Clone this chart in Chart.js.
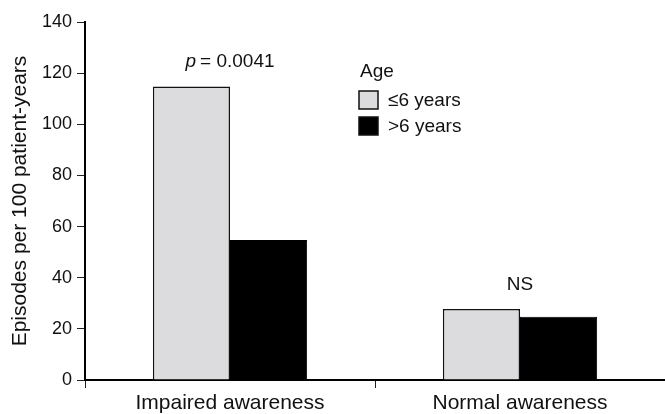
<!DOCTYPE html>
<html>
<head>
<meta charset="utf-8">
<script src="https://cdn.jsdelivr.net/npm/chart.js@4"></script>
<style>
html, body { margin: 0; padding: 0; background: #fff; }
</style>
</head>
<body>
<canvas id="chart" width="665" height="414"></canvas>
<script>
// Chart data
const categories = ['Impaired awareness', 'Normal awareness'];
const seriesLabels = ['\u22646 years', '>6 years'];
const youngerValues = [114.8, 27.8];
const olderValues = [54.7, 24.7];
const yMin = 0;
const yMax = 140;
const yStep = 20;
// annotation above each pair: [italic part, upright part]
const pairNotes = [['p', '= 0.0041'], ['', 'NS']];
const legendTitle = 'Age';

const fontFamily = '"Liberation Sans", Arial, Helvetica, sans-serif';
const ink = '#111111';

Chart.defaults.font.family = fontFamily;
Chart.defaults.color = ink;

// Draws the p-value / NS notes and the small "Age" legend inside the plot
const notesPlugin = {
    id: 'notes',
    afterDatasetsDraw(chart, args, opts) {
        const ctx = chart.ctx;
        const xs = chart.scales.x;
        const ys = chart.scales.y;
        ctx.save();
        ctx.fillStyle = ink;
        ctx.textBaseline = 'alphabetic';

        pairNotes.forEach((parts, i) => {
            const top = Math.max(youngerValues[i], olderValues[i]);
            const cx = xs.getPixelForValue(i);
            const by = ys.getPixelForValue(top) - opts.noteGap;
            ctx.font = 'italic 19px ' + fontFamily;
            const w1 = parts[0] ? ctx.measureText(parts[0]).width + 4 : 0;
            ctx.font = '19px ' + fontFamily;
            const w2 = ctx.measureText(parts[1]).width;
            let sx = cx - (w1 + w2) / 2;
            ctx.textAlign = 'left';
            if (parts[0]) {
                ctx.font = 'italic 19px ' + fontFamily;
                ctx.fillText(parts[0], sx, by);
                sx += w1;
            }
            ctx.font = '19px ' + fontFamily;
            ctx.fillText(parts[1], sx, by);
        });

        // legend
        const lx = opts.legendX;
        ctx.font = '19px ' + fontFamily;
        ctx.textAlign = 'left';
        ctx.textBaseline = 'middle';
        ctx.fillText(legendTitle, lx + 1, opts.legendY);
        chart.data.datasets.forEach((ds, i) => {
            const cy = opts.legendY + 28 + i * 26;
            ctx.fillStyle = ds.backgroundColor;
            ctx.fillRect(lx, cy - 9, 19, 18);
            ctx.lineWidth = 1.5;
            ctx.strokeStyle = ink;
            ctx.strokeRect(lx, cy - 9, 19, 18);
            ctx.fillStyle = ink;
            ctx.fillText(ds.label, lx + 29, cy + 1);
        });
        ctx.restore();
    }
};

const ctx = document.getElementById('chart').getContext('2d');

new Chart(ctx, {
    type: 'bar',
    data: {
        labels: categories,
        datasets: [
            {
                label: seriesLabels[0],
                data: youngerValues,
                backgroundColor: '#dcdcdf',
                borderColor: ink,
                borderWidth: 1.5,
                borderSkipped: 'bottom'
            },
            {
                label: seriesLabels[1],
                data: olderValues,
                backgroundColor: '#000000',
                borderColor: '#000000',
                borderWidth: 1,
                borderSkipped: 'bottom'
            }
        ]
    },
    options: {
        responsive: false,
        animation: false,
        devicePixelRatio: 1,
        categoryPercentage: 0.532,
        barPercentage: 1,
        layout: { padding: { top: 22, right: 0, bottom: 0, left: 0 } },
        plugins: {
            legend: { display: false },
            tooltip: { enabled: false },
            notes: { noteGap: 19, legendX: 359, legendY: 72 }
        },
        scales: {
            x: {
                grid: {
                    offset: true,
                    drawOnChartArea: false,
                    tickLength: 8,
                    color: '#222',
                    lineWidth: 1
                },
                border: { color: '#000', width: 2 },
                ticks: {
                    padding: 3,
                    color: ink,
                    font: { size: 21 }
                },
                afterFit(scale) { scale.height = 34; }
            },
            y: {
                min: yMin,
                max: yMax,
                grid: {
                    drawOnChartArea: false,
                    tickLength: 8,
                    color: '#222',
                    lineWidth: 1
                },
                border: { color: '#000', width: 2 },
                ticks: {
                    stepSize: yStep,
                    padding: 5,
                    color: ink,
                    font: { size: 18 }
                },
                title: {
                    display: true,
                    text: 'Episodes per 100 patient-years',
                    color: ink,
                    font: { size: 21 },
                    padding: { top: 8, bottom: 0 }
                },
                afterFit(scale) { scale.width = 85; }
            }
        }
    },
    plugins: [notesPlugin]
});
</script>
</body>
</html>
